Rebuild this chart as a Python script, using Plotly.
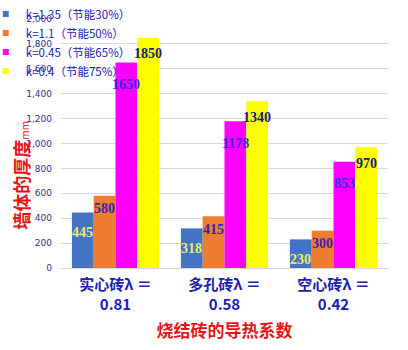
import plotly.graph_objects as go

categories = ["实心砖λ ＝<br>0.81", "多孔砖λ ＝<br>0.58", "空心砖λ ＝<br>0.42"]
series_names = ["k=1.35（节能30%）", "k=1.1（节能50%）", "k=0.45（节能65%）", "k=0.4（节能75%）"]
s1 = [445, 318, 230]
s2 = [580, 415, 300]
s3 = [1650, 1178, 853]
s4 = [1850, 1340, 970]
series_values = [s1, s2, s3, s4]
y_ticks = [0, 200, 400, 600, 800, 1000, 1200, 1400, 1600, 1800, 2000]

colors = ["#4472C4", "#ED7D31", "#FF00FF", "#FFFF00"]
label_colors = ["#E8F060", "#3A1FB0", "#3030E0", "#1A1A80"]
label_shift = [-20, -13, -22, -16]

fig = go.Figure()
for name, vals, c in zip(series_names, series_values, colors):
    fig.add_trace(go.Bar(name=name, x=list(range(len(categories))), y=vals,
                         marker=dict(color=c, line=dict(width=0)), showlegend=False))
    fig.add_trace(go.Scatter(name=name, x=[None], y=[None], mode="markers",
                             marker=dict(symbol="square", size=6, color=c), showlegend=True))

offsets = [-0.3, -0.1, 0.1, 0.3]
for si, vals in enumerate(series_values):
    for ci, v in enumerate(vals):
        fig.add_annotation(x=ci + offsets[si], y=v, xref="x", yref="y",
                           text="<b>%d</b>" % v, showarrow=False, yshift=label_shift[si],
                           font=dict(family="Liberation Serif", size=14, color=label_colors[si]),
                           xanchor="center", yanchor="middle")

fig.add_annotation(x=-0.125, y=0.5, xref="paper", yref="paper",
                   text="<b>墙体的厚度</b><span style='font-size:10px'>mm</span>",
                   textangle=-90, showarrow=False, yshift=-32, xanchor="center",
                   font=dict(family="Noto Sans CJK SC", size=18, color="#E8141A"))

fig.update_layout(
    width=408, height=350,
    margin=dict(l=61, r=20, t=19, b=82, autoexpand=False),
    paper_bgcolor="white", plot_bgcolor="white",
    barmode="group", bargap=0.2, bargroupgap=0,
    showlegend=True,
    legend=dict(x=-0.23, y=1.078, xanchor="left", yanchor="top",
                bgcolor="rgba(0,0,0,0)", itemwidth=30,
                font=dict(family="Noto Sans CJK SC", size=11.5, color="#2020C0"),
                tracegroupgap=0, traceorder="normal"),
    xaxis=dict(tickmode="array", tickvals=list(range(len(categories))),
               ticktext=["<b>%s</b>" % t for t in categories],
               range=[-0.5, 2.5], showgrid=False, showline=True, linecolor="#D9D9D9",
               ticks="", ticklabelstandoff=3,
               tickfont=dict(family="Noto Sans CJK SC", size=15, color="#2020B0"),
               title=dict(text="<b>烧结砖的导热系数</b>", standoff=12,
                          font=dict(family="Noto Sans CJK SC", size=17, color="#E8141A"))),
    yaxis=dict(range=[0, 2000], tickvals=y_ticks, tickformat=",d",
               showgrid=True, gridcolor="#D9D9D9", zeroline=False, showline=False,
               ticklabelstandoff=8,
               tickfont=dict(family="DejaVu Sans", size=9, color="#303090"), ticks=""),
)

fig.write_html("out.html")
